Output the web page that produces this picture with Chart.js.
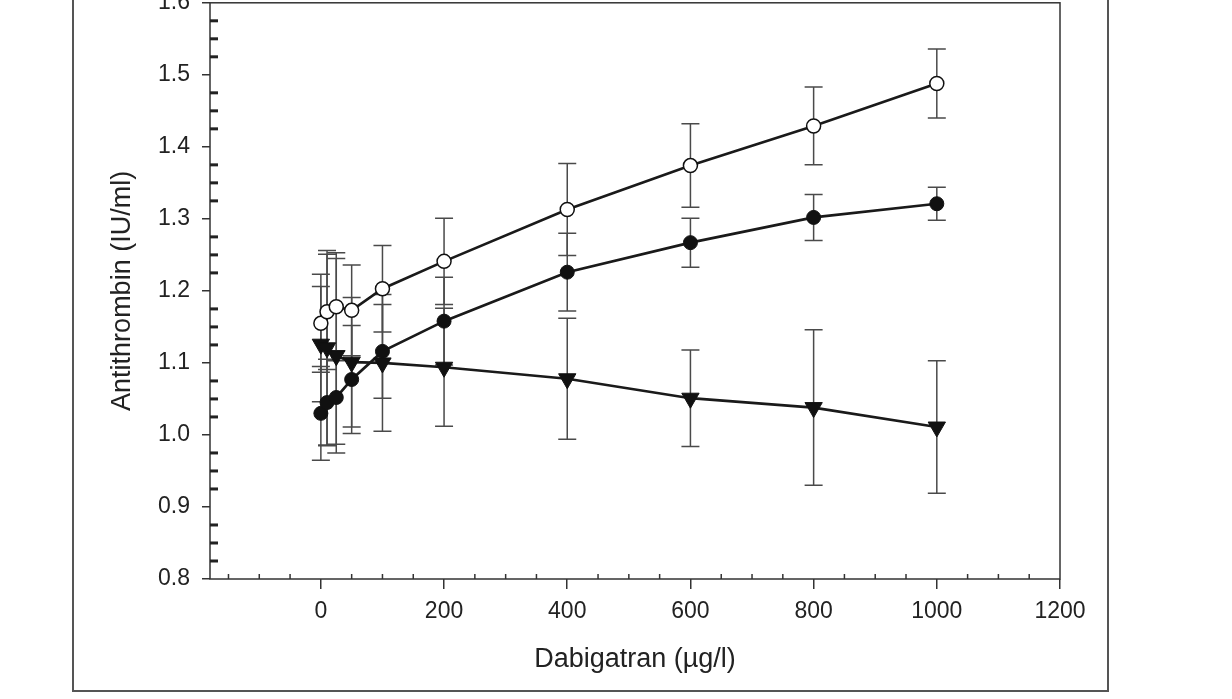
<!DOCTYPE html>
<html>
<head>
<meta charset="utf-8">
<script src="https://cdn.jsdelivr.net/npm/chart.js@4/dist/chart.umd.min.js"></script>
<style>
  html, body { margin: 0; padding: 0; background: #fff; overflow: hidden; }
  body { width: 1232px; height: 699px; position: relative; }
  #frame { position: absolute; left: 72px; top: -10px; width: 1033px; height: 698px; border: 2px solid #555; }
  #wrap { position: absolute; left: 0; top: -23px; width: 1232px; height: 722px; }
</style>
</head>
<body>
<div id="frame"></div>
<div id="wrap"><canvas id="atChart"></canvas></div>
<script>
"use strict";

// dabigatran concentration (µg/l)
const doses = [0, 10, 25, 50, 100, 200, 400, 600, 800, 1000];

// open circles
const openMean = [1.155, 1.171, 1.178, 1.173, 1.203, 1.241, 1.313, 1.374, 1.429, 1.488];
const openErr  = [0.068, 0.080, 0.075, 0.063, 0.060, 0.060, 0.064, 0.058, 0.054, 0.048];
// filled circles
const filledMean = [1.030, 1.045, 1.052, 1.077, 1.116, 1.158, 1.226, 1.267, 1.302, 1.321];
const filledErr  = [0.065, 0.060, 0.065, 0.075, 0.065, 0.061, 0.054, 0.034, 0.032, 0.023];
// filled triangles (down)
const triMean = [1.126, 1.121, 1.110, 1.101, 1.100, 1.094, 1.078, 1.051, 1.038, 1.011];
const triErr  = [0.080, 0.135, 0.135, 0.090, 0.095, 0.082, 0.084, 0.067, 0.108, 0.092];

const xTicks = [0, 200, 400, 600, 800, 1000, 1200];
const yTicks = [0.8, 0.9, 1.0, 1.1, 1.2, 1.3, 1.4, 1.5, 1.6];

const xMinor = [];
for (let v = -150; v < 1200; v += 50) if (v % 200 !== 0) xMinor.push(v);
const yMinor = [];
for (let k = 0; k < 32; k++) if (k % 4 !== 0) yMinor.push(0.8 + k * 0.025);

const toPoints = (ys) => ys.map((v, i) => ({ x: doses[i], y: v }));

// error bars, minor ticks and plot box
const extras = {
  id: "extras",
  beforeDatasetsDraw(chart) {
    const { ctx, chartArea, scales: { x, y } } = chart;
    ctx.save();
    ctx.strokeStyle = "#4a4a4a";
    ctx.lineWidth = 1.5;
    chart.data.datasets.forEach(ds => {
      ds.data.forEach((p, i) => {
        const e = ds.errors[i];
        const px = x.getPixelForValue(p.x);
        const t = y.getPixelForValue(p.y + e);
        const b = y.getPixelForValue(p.y - e);
        ctx.beginPath();
        ctx.moveTo(px, t); ctx.lineTo(px, b);
        ctx.moveTo(px - 9, t); ctx.lineTo(px + 9, t);
        ctx.moveTo(px - 9, b); ctx.lineTo(px + 9, b);
        ctx.stroke();
      });
    });

    ctx.strokeStyle = "#333";
    ctx.lineWidth = 1.5;
    ctx.strokeRect(chartArea.left, chartArea.top, chartArea.right - chartArea.left, chartArea.bottom - chartArea.top);

    ctx.beginPath();
    xMinor.forEach(v => {
      const px = x.getPixelForValue(v);
      ctx.moveTo(px, chartArea.bottom);
      ctx.lineTo(px, chartArea.bottom - 5);
    });
    ctx.stroke();

    ctx.fillStyle = "#222";
    yMinor.forEach(v => {
      const py = y.getPixelForValue(v);
      ctx.fillRect(chartArea.left, py - 1.5, 8, 3);
    });
    ctx.restore();
  }
};

const font = "'Liberation Sans', Arial, sans-serif";

new Chart(document.getElementById("atChart"), {
  type: "scatter",
  data: {
    datasets: [
      {
        data: toPoints(triMean), errors: triErr,
        showLine: true, borderColor: "#1a1a1a", borderWidth: 2.7,
        pointStyle: "triangle", rotation: 180, pointRadius: 10,
        pointBackgroundColor: "#111", pointBorderColor: "#111", pointBorderWidth: 1
      },
      {
        data: toPoints(filledMean), errors: filledErr,
        showLine: true, borderColor: "#1a1a1a", borderWidth: 2.7,
        pointStyle: "circle", pointRadius: 7,
        pointBackgroundColor: "#111", pointBorderColor: "#111", pointBorderWidth: 1
      },
      {
        data: toPoints(openMean), errors: openErr,
        showLine: true, borderColor: "#1a1a1a", borderWidth: 2.7,
        pointStyle: "circle", pointRadius: 7,
        pointBackgroundColor: "#fff", pointBorderColor: "#111", pointBorderWidth: 1.5
      }
    ]
  },
  options: {
    responsive: true,
    maintainAspectRatio: false,
    animation: false,
    layout: { padding: { top: 9, right: 172, bottom: 0, left: 0 } },
    plugins: { legend: { display: false }, tooltip: { enabled: false } },
    scales: {
      x: {
        type: "linear", min: -180, max: 1200,
        afterBuildTicks: s => { s.ticks = xTicks.map(v => ({ value: v })); },
        afterFit: s => { s.height = 120; },
        border: { display: false },
        grid: { drawOnChartArea: false, drawTicks: true, tickLength: 10, color: "#333", lineWidth: 1.5 },
        ticks: { color: "#222", font: { family: font, size: 23 }, padding: 9, maxRotation: 0,
                 callback: v => String(v) },
        title: { display: true, text: "Dabigatran (µg/l)", color: "#222",
                 font: { family: font, size: 27 }, padding: { top: 0, bottom: 23 } }
      },
      y: {
        type: "linear", min: 0.8, max: 1.6,
        afterBuildTicks: s => { s.ticks = yTicks.map(v => ({ value: v })); },
        afterFit: s => { s.width = 210; },
        border: { display: false },
        grid: { drawOnChartArea: false, drawTicks: true, tickLength: 8, color: "#333", lineWidth: 1.5 },
        ticks: { color: "#222", font: { family: font, size: 23 }, padding: 12,
                 callback: v => Number(v).toFixed(1) },
        title: { display: true, text: "Antithrombin (IU/ml)", color: "#222",
                 font: { family: font, size: 27 }, padding: { top: 106, bottom: 0 } }
      }
    }
  },
  plugins: [extras]
});
</script>
</body>
</html>
